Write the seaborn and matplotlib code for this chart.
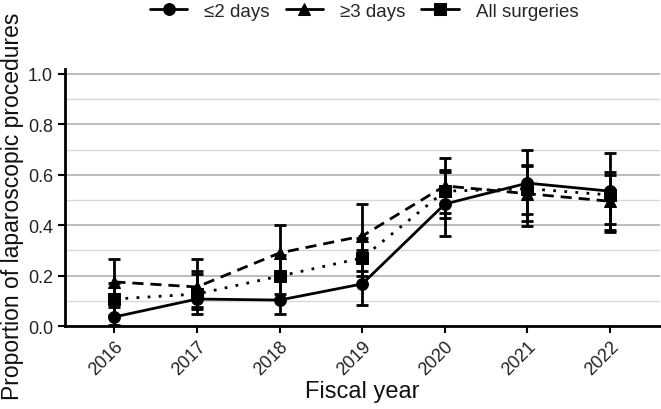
import numpy as np
import pandas as pd
import matplotlib
matplotlib.use("Agg")
import matplotlib.pyplot as plt
import seaborn as sns
from matplotlib.ticker import MultipleLocator

years = [2016, 2017, 2018, 2019, 2020, 2021, 2022]
groups = ["≤2 days", "≥3 days", "All surgeries"]

short_stay = [0.036, 0.107, 0.103, 0.167, 0.484, 0.567, 0.535]
short_lo = [0.005, 0.048, 0.048, 0.083, 0.357, 0.417, 0.373]
short_hi = [0.110, 0.206, 0.200, 0.300, 0.610, 0.700, 0.687]

long_stay = [0.175, 0.155, 0.290, 0.357, 0.556, 0.525, 0.495]
long_lo = [0.075, 0.067, 0.190, 0.220, 0.430, 0.397, 0.380]
long_hi = [0.266, 0.266, 0.400, 0.484, 0.667, 0.635, 0.610]

all_surg = [0.107, 0.127, 0.198, 0.270, 0.535, 0.545, 0.520]
all_lo = [0.045, 0.075, 0.127, 0.200, 0.450, 0.444, 0.405]
all_hi = [0.170, 0.218, 0.280, 0.350, 0.620, 0.640, 0.600]

df = pd.DataFrame({
    "year": years * 3,
    "value": short_stay + long_stay + all_surg,
    "lo": short_lo + long_lo + all_lo,
    "hi": short_hi + long_hi + all_hi,
    "group": [groups[0]] * 7 + [groups[1]] * 7 + [groups[2]] * 7,
})

sns.set_theme(style="white")
plt.rcParams["font.family"] = ["Liberation Sans", "DejaVu Sans"]

fig = plt.figure(figsize=(6.61, 4.10), dpi=100)
ax = fig.add_axes([0.098, 0.2024, 0.9, 0.627])

# error bars
for g in groups:
    sub = df[df.group == g]
    ax.errorbar(sub.year, sub.value,
                yerr=[sub.value - sub.lo, sub.hi - sub.value],
                fmt="none", ecolor="black", elinewidth=2, capsize=4, capthick=2, zorder=3)

sns.lineplot(data=df, x="year", y="value", style="group", hue="group",
             palette=["black"] * 3,
             markers={groups[0]: "o", groups[1]: "^", groups[2]: "s"},
             dashes={groups[0]: "", groups[1]: (4, 2.5), groups[2]: (1, 3)},
             markersize=8.5, linewidth=2, markeredgecolor="black", ax=ax, zorder=4)

ax.set_xlim(2015.4, 2022.6)
ax.set_ylim(0, 1.02)
ax.yaxis.set_minor_locator(MultipleLocator(0.1))
ax.set_yticks([0, 0.2, 0.4, 0.6, 0.8, 1.0])
ax.set_yticklabels(["0.0", "0.2", "0.4", "0.6", "0.8", "1.0"])
ax.set_xticks(years)
ax.set_xticklabels([str(y) for y in years], rotation=45, ha="right", rotation_mode="anchor")
ax.grid(axis="y", which="major", color="#b0b0b0", linewidth=1.2)
ax.grid(axis="y", which="minor", color="#d8d8d8", linewidth=1.0)
ax.set_axisbelow(True)

for s in ["top", "right"]:
    ax.spines[s].set_visible(False)
for s in ["left", "bottom"]:
    ax.spines[s].set_color("black")
    ax.spines[s].set_linewidth(2)

ax.tick_params(axis="both", which="major", direction="out", length=5, width=1.5,
               color="black", labelsize=13, labelcolor="#222222", left=True, bottom=True)
ax.tick_params(axis="y", which="minor", left=False)

ax.set_xlabel("Fiscal year", fontsize=17, color="#111111", labelpad=1)
ax.set_ylabel("Proportion of laparoscopic procedures", fontsize=16.5, color="#111111")
ax.yaxis.set_label_coords(-0.068, 0.47)

handles, labels = ax.get_legend_handles_labels()
for h in handles:
    h.set_linestyle("-")
    h.set_linewidth(2)
ax.legend(handles, labels, loc="center", bbox_to_anchor=(0.503, 1.225), ncol=3,
          frameon=False, fontsize=13.5, handlelength=2.0, handletextpad=0.9,
          columnspacing=0.85)

fig.savefig("out.png", dpi=100)
